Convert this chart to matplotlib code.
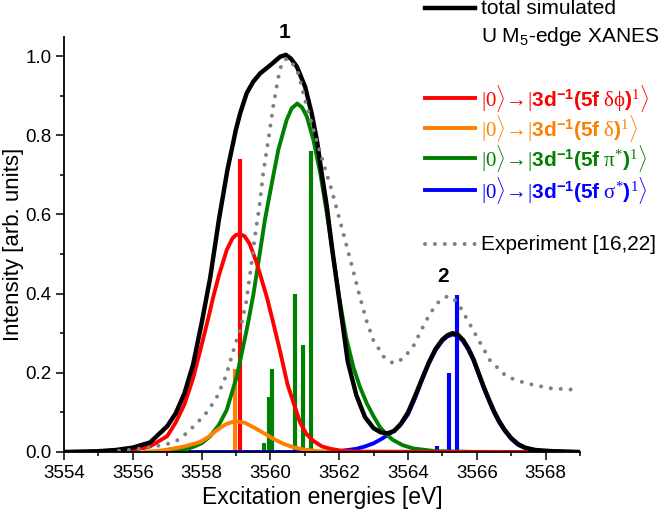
import matplotlib
matplotlib.use('Agg')
import matplotlib.pyplot as plt
from matplotlib.lines import Line2D

plt.rcParams['font.family'] = ['Liberation Sans', 'DejaVu Sans']
plt.rcParams['mathtext.fontset'] = 'custom'
plt.rcParams['mathtext.rm'] = 'Liberation Serif'
plt.rcParams['mathtext.it'] = 'Liberation Serif:italic'
plt.rcParams['mathtext.bf'] = 'Liberation Sans:bold'
plt.rcParams['mathtext.sf'] = 'Liberation Sans'

# total simulated spectrum
total_x = [3554.0, 3555.0, 3555.5, 3556.0, 3556.5, 3557.0, 3557.25, 3557.5, 3557.75, 3558.0,
           3558.25, 3558.5, 3558.75, 3559.0, 3559.12, 3559.31, 3559.5, 3559.7, 3560.0, 3560.28,
           3560.45, 3560.6, 3560.77, 3561.01, 3561.2, 3561.35, 3561.49, 3561.64, 3561.8, 3562.0,
           3562.12, 3562.25, 3562.5, 3562.75, 3563.0, 3563.2, 3563.4, 3563.6, 3563.8, 3564.0,
           3564.2, 3564.4, 3564.6, 3564.8, 3565.0, 3565.15, 3565.3, 3565.45, 3565.6, 3565.75,
           3565.9, 3566.05, 3566.2, 3566.35, 3566.5, 3566.65, 3566.8, 3567.0, 3567.2, 3567.4,
           3567.7, 3568.2, 3569.0]
total_y = [0.0, 0.002, 0.005, 0.011, 0.024, 0.065, 0.098, 0.148, 0.22, 0.325,
           0.44, 0.585, 0.712, 0.815, 0.855, 0.906, 0.935, 0.956, 0.977, 0.998,
           1.003, 0.993, 0.973, 0.922, 0.855, 0.788, 0.704, 0.62, 0.51, 0.385,
           0.31, 0.228, 0.143, 0.088, 0.06, 0.05, 0.047, 0.053, 0.072, 0.10,
           0.14, 0.183, 0.225, 0.26, 0.284, 0.295, 0.30, 0.296, 0.283, 0.262,
           0.235, 0.20, 0.165, 0.133, 0.103, 0.078, 0.057, 0.035, 0.02, 0.011,
           0.005, 0.002, 0.0]

# experiment
exp_x = [3555.6, 3556.0, 3556.5, 3557.0, 3557.3, 3557.6, 3557.95, 3558.2, 3558.45, 3558.7,
         3558.92, 3559.12, 3559.3, 3559.41, 3559.55, 3559.68, 3559.79, 3559.94, 3560.08, 3560.18,
         3560.28, 3560.4, 3560.5, 3560.65, 3560.81, 3561.05, 3561.3, 3561.54, 3561.78, 3562.12,
         3562.4, 3562.6, 3562.8, 3562.99, 3563.3, 3563.57, 3563.85, 3564.15, 3564.4, 3564.64,
         3564.9, 3565.12, 3565.3, 3565.51, 3565.75, 3566.0, 3566.38, 3566.87, 3567.45, 3568.13,
         3568.9]
exp_y = [0.003, 0.006, 0.012, 0.02, 0.03, 0.05, 0.081, 0.105, 0.14, 0.19,
         0.255, 0.31, 0.38, 0.45, 0.544, 0.62, 0.704, 0.788, 0.872, 0.922,
         0.968, 0.99, 0.994, 0.98, 0.956, 0.875, 0.80, 0.729, 0.662, 0.552,
         0.46, 0.392, 0.33, 0.283, 0.24, 0.224, 0.235, 0.266, 0.31, 0.35,
         0.38, 0.392, 0.39, 0.367, 0.33, 0.291, 0.232, 0.19, 0.173, 0.161,
         0.157]

# 5f delta-phi
red_x = [3555.5, 3556.0, 3556.5, 3557.0, 3557.25, 3557.5, 3557.75, 3558.0, 3558.2, 3558.34,
         3558.5, 3558.73, 3558.9, 3559.0, 3559.12, 3559.25, 3559.4, 3559.6, 3559.9, 3560.1,
         3560.28, 3560.5, 3560.67, 3560.86, 3561.05, 3561.25, 3561.5, 3561.75, 3562.0, 3562.5,
         3567.7]
red_y = [0.0, 0.004, 0.014, 0.04, 0.075, 0.12, 0.185, 0.27, 0.34, 0.392,
         0.445, 0.51, 0.54, 0.548, 0.55, 0.545, 0.525, 0.478, 0.39, 0.32,
         0.255, 0.17, 0.125, 0.075, 0.045, 0.028, 0.014, 0.008, 0.004, 0.001,
         0.0]

# 5f delta
orange_x = [3556.3, 3556.75, 3557.0, 3557.5, 3557.95, 3558.2, 3558.44, 3558.7, 3558.97, 3559.25,
            3559.5, 3559.8, 3560.09, 3560.4, 3560.7, 3561.0, 3561.4, 3561.95]
orange_y = [0.0, 0.003, 0.006, 0.014, 0.025, 0.038, 0.055, 0.07, 0.078, 0.074,
            0.063, 0.048, 0.033, 0.02, 0.011, 0.006, 0.002, 0.0]

# 5f pi*
green_x = [3557.0, 3557.5, 3557.76, 3558.0, 3558.24, 3558.5, 3558.73, 3559.02, 3559.31, 3559.5,
           3559.6, 3559.75, 3559.84, 3560.04, 3560.23, 3560.47, 3560.62, 3560.78, 3560.92, 3561.06,
           3561.25, 3561.45, 3561.64, 3561.83, 3562.0, 3562.2, 3562.41, 3562.6, 3562.8, 3563.0,
           3563.19, 3563.4, 3563.57, 3563.85, 3564.15, 3564.8, 3566.0]
green_y = [0.0, 0.006, 0.013, 0.022, 0.039, 0.068, 0.106, 0.19, 0.308, 0.395,
           0.45, 0.535, 0.586, 0.678, 0.763, 0.838, 0.868, 0.88, 0.87, 0.847,
           0.788, 0.704, 0.603, 0.49, 0.39, 0.29, 0.215, 0.165, 0.123, 0.09,
           0.062, 0.042, 0.03, 0.017, 0.009, 0.002, 0.0]

# 5f sigma*
blue_x = [3557.6, 3561.5, 3562.0, 3562.5, 3562.75, 3563.0, 3563.25, 3563.5, 3563.75, 3564.0,
          3564.2, 3564.4, 3564.6, 3564.8, 3565.0, 3565.15, 3565.3, 3565.45, 3565.6, 3565.75,
          3565.9, 3566.05, 3566.2, 3566.35, 3566.5, 3566.65, 3566.8, 3567.0, 3567.2, 3567.4,
          3567.8, 3568.8]
blue_y = [0.0, 0.0, 0.002, 0.008, 0.014, 0.022, 0.034, 0.048, 0.065, 0.095,
          0.135, 0.18, 0.222, 0.257, 0.281, 0.292, 0.297, 0.293, 0.28, 0.259,
          0.232, 0.197, 0.162, 0.13, 0.1, 0.075, 0.055, 0.033, 0.018, 0.01,
          0.003, 0.0]

# transition sticks
red_sticks_x = [3559.12]
red_sticks_y = [0.74]
orange_sticks_x = [3558.97]
orange_sticks_y = [0.21]
green_sticks_x = [3559.82, 3559.97, 3560.04, 3560.72, 3560.96, 3561.17]
green_sticks_y = [0.022, 0.14, 0.21, 0.40, 0.27, 0.76]
blue_sticks_x = [3564.83, 3565.2, 3565.43]
blue_sticks_y = [0.014, 0.199, 0.396]

RED = '#ff0000'
ORANGE = '#ff8000'
GREEN = '#008000'
BLUE = '#0000ff'
GRAY = '#808080'

W, H = 662, 512
fig = plt.figure(figsize=(W / 100, H / 100), dpi=100)
ax = fig.add_axes([64 / W, 60 / H, 516 / W, 415 / H])


def px(x, y):
    # figure pixel position (from top-left) -> figure fraction
    return x / W, 1 - y / H


# sticks
ax.vlines(orange_sticks_x, 0, orange_sticks_y, color=ORANGE, lw=3)
ax.vlines(red_sticks_x, 0, red_sticks_y, color=RED, lw=3)
ax.vlines(green_sticks_x, 0, green_sticks_y, color=GREEN, lw=3)
ax.vlines(blue_sticks_x, 0, blue_sticks_y, color=BLUE, lw=3)

# component curves
curve_kw = dict(lw=2.8, solid_capstyle='butt', solid_joinstyle='round')
ax.plot(blue_x, blue_y, color=BLUE, **curve_kw)
ax.plot(green_x, green_y, color=GREEN, **curve_kw)
ax.plot(orange_x, orange_y, color=ORANGE, **curve_kw)
ax.plot(red_x, red_y, color=RED, **curve_kw)

ax.plot(total_x, total_y, color='black', lw=3.2, solid_joinstyle='round')
ax.plot(exp_x, exp_y, color=GRAY, lw=2.9, ls=(0, (0.01, 2.45)), dash_capstyle='round')

ax.set_xlim(3554, 3569)
ax.set_ylim(0, 1.048)
ax.set_xticks(range(3554, 3569, 2))
ax.set_xticks(range(3554, 3570, 1), minor=True)
ax.set_yticks([0.0, 0.2, 0.4, 0.6, 0.8, 1.0])
ax.set_yticks([0.1, 0.3, 0.5, 0.7, 0.9], minor=True)
ax.set_yticklabels(['0.0', '0.2', '0.4', '0.6', '0.8', '1.0'])
ax.tick_params(which='major', direction='out', length=6, width=1.1, labelsize=13.5, pad=3)
ax.tick_params(which='minor', direction='out', length=3, width=1.1)
for side in ['top', 'right']:
    ax.spines[side].set_visible(False)
for side in ['left', 'bottom']:
    ax.spines[side].set_linewidth(1.3)

ax.set_xlabel('Excitation energies [eV]', fontsize=16.5, labelpad=3)
ax.set_ylabel('Intensity [arb. units]', fontsize=16, labelpad=1)

# peak labels
fig.text(*px(285, 32), '1', fontsize=15, fontweight='bold', ha='center', va='center')
fig.text(*px(443, 277), '2', fontsize=15, fontweight='bold', ha='center', va='center')

# legend drawn by hand
legend_rows = [
    ('black', '-', 8, 'total simulated'),
    (RED, '-', 98, r'$|0\rangle\!\rightarrow\!|\mathbf{3d}^{\mathbf{-1}}\mathbf{(5f}\ \mathrm{\delta\phi}\mathbf{)}^{1}\rangle$'),
    (ORANGE, '-', 128, r'$|0\rangle\!\rightarrow\!|\mathbf{3d}^{\mathbf{-1}}\mathbf{(5f}\ \mathrm{\delta}\mathbf{)}^{1}\rangle$'),
    (GREEN, '-', 158, r'$|0\rangle\!\rightarrow\!|\mathbf{3d}^{\mathbf{-1}}\mathbf{(5f}\ \mathrm{\pi}^{*}\mathbf{)}^{1}\rangle$'),
    (BLUE, '-', 190, r'$|0\rangle\!\rightarrow\!|\mathbf{3d}^{\mathbf{-1}}\mathbf{(5f}\ \mathrm{\sigma}^{*}\mathbf{)}^{1}\rangle$'),
    (GRAY, ':', 244, 'Experiment [16,22]'),
]
for color, style, y, label in legend_rows:
    x0, yy = px(425, y)
    x1, _ = px(475, y)
    if style == ':':
        line = Line2D([x0, x1], [yy, yy], transform=fig.transFigure, color=color, lw=2.9,
                      ls=(0, (0.01, 2.45)), dash_capstyle='round')
    else:
        line = Line2D([x0, x1], [yy, yy], transform=fig.transFigure, color=color,
                      lw=3.2 if color == 'black' else 2.8)
    fig.add_artist(line)
    text_color = 'black' if color in ('black', GRAY) else color
    fig.text(*px(481, y), label, fontsize=15, color=text_color, ha='left', va='center')
fig.text(*px(481, 36), r'U M$_\mathsf{5}$-edge XANES', fontsize=15, ha='left', va='center')

fig.savefig('out.png', dpi=100)
